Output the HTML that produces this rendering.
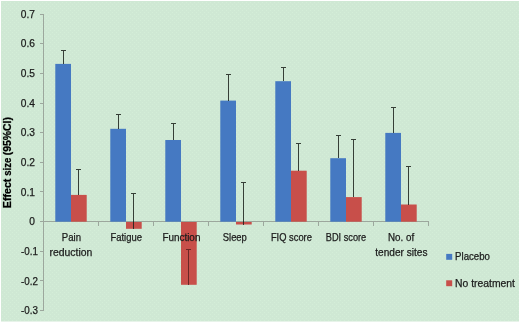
<!DOCTYPE html>
<html lang="en">
<head>
<meta charset="utf-8">
<title>Effect size chart</title>
<style>
html,body{margin:0;padding:0;background:#fff;}
body{width:520px;height:323px;overflow:hidden;}
svg{display:block;}
text{font-family:"Liberation Sans",sans-serif;fill:#1c1c1c;}
.lbl{font-size:10.2px;stroke:#1c1c1c;stroke-width:0.25px;}
.ttl{font-size:10.3px;font-weight:bold;fill:#000;stroke:#000;stroke-width:0.25px;}
</style>
</head>
<body>
<svg width="520" height="323" viewBox="0 0 520 323">
<defs><pattern id="dots" width="4" height="4" patternUnits="userSpaceOnUse"><rect x="0" y="0" width="1" height="1" fill="#d4eed8"/><rect x="2" y="2" width="1" height="1" fill="#d4eed8"/></pattern></defs>
<rect x="0" y="0" width="520" height="323" fill="#ffffff"/>
<rect x="1" y="1" width="518" height="320.5" fill="#cfe8d4"/>
<rect x="1" y="1" width="518" height="320" fill="url(#dots)" shape-rendering="crispEdges"/>
<g stroke="#9ca79d" stroke-width="1" fill="none" shape-rendering="crispEdges">
<line x1="43.5" y1="14" x2="43.5" y2="311"/>
<line x1="43" y1="221.5" x2="429" y2="221.5"/>
<line x1="40" y1="14.5" x2="43" y2="14.5"/>
<line x1="40" y1="43.5" x2="43" y2="43.5"/>
<line x1="40" y1="73.5" x2="43" y2="73.5"/>
<line x1="40" y1="103.5" x2="43" y2="103.5"/>
<line x1="40" y1="132.5" x2="43" y2="132.5"/>
<line x1="40" y1="162.5" x2="43" y2="162.5"/>
<line x1="40" y1="191.5" x2="43" y2="191.5"/>
<line x1="40" y1="221.5" x2="43" y2="221.5"/>
<line x1="40" y1="251.5" x2="43" y2="251.5"/>
<line x1="40" y1="280.5" x2="43" y2="280.5"/>
<line x1="40" y1="310.5" x2="43" y2="310.5"/>
<line x1="98.5" y1="221" x2="98.5" y2="226"/>
<line x1="153.5" y1="221" x2="153.5" y2="226"/>
<line x1="208.5" y1="221" x2="208.5" y2="226"/>
<line x1="263.5" y1="221" x2="263.5" y2="226"/>
<line x1="318.5" y1="221" x2="318.5" y2="226"/>
<line x1="373.5" y1="221" x2="373.5" y2="226"/>
<line x1="428.5" y1="221" x2="428.5" y2="226"/>
</g>
<g>
<rect x="55.29" y="63.90" width="15.71" height="157.80" fill="#4579c2"/>
<rect x="71.00" y="194.90" width="15.71" height="26.80" fill="#c84f4a"/>
<rect x="110.29" y="128.80" width="15.71" height="92.90" fill="#4579c2"/>
<rect x="126.00" y="222.00" width="15.71" height="6.80" fill="#c84f4a"/>
<rect x="165.29" y="140.00" width="15.71" height="81.70" fill="#4579c2"/>
<rect x="181.00" y="222.00" width="15.71" height="62.80" fill="#c84f4a"/>
<rect x="220.29" y="100.60" width="15.71" height="121.10" fill="#4579c2"/>
<rect x="236.00" y="222.00" width="15.71" height="2.50" fill="#c84f4a"/>
<rect x="275.29" y="81.20" width="15.71" height="140.50" fill="#4579c2"/>
<rect x="291.00" y="170.70" width="15.71" height="51.00" fill="#c84f4a"/>
<rect x="330.29" y="158.20" width="15.71" height="63.50" fill="#4579c2"/>
<rect x="346.00" y="197.10" width="15.71" height="24.60" fill="#c84f4a"/>
<rect x="385.29" y="132.90" width="15.71" height="88.80" fill="#4579c2"/>
<rect x="401.00" y="204.50" width="15.71" height="17.20" fill="#c84f4a"/>
</g>
<g stroke="#1a201a" stroke-opacity="0.85" stroke-width="1" fill="none" shape-rendering="crispEdges">
<line x1="63.50" y1="63.90" x2="63.50" y2="50.50"/>
<line x1="61.00" y1="50.50" x2="66.00" y2="50.50"/>
<line x1="78.50" y1="194.90" x2="78.50" y2="169.50"/>
<line x1="76.00" y1="169.50" x2="81.00" y2="169.50"/>
<line x1="118.50" y1="128.80" x2="118.50" y2="114.50"/>
<line x1="116.00" y1="114.50" x2="121.00" y2="114.50"/>
<line x1="133.50" y1="228.80" x2="133.50" y2="193.50"/>
<line x1="131.00" y1="193.50" x2="136.00" y2="193.50"/>
<line x1="173.50" y1="140.00" x2="173.50" y2="123.50"/>
<line x1="171.00" y1="123.50" x2="176.00" y2="123.50"/>
<line x1="188.50" y1="284.80" x2="188.50" y2="249.50" stroke="#5a1f1f"/>
<line x1="186.00" y1="249.50" x2="191.00" y2="249.50" stroke="#5a1f1f"/>
<line x1="228.50" y1="100.60" x2="228.50" y2="74.50"/>
<line x1="226.00" y1="74.50" x2="231.00" y2="74.50"/>
<line x1="243.50" y1="224.50" x2="243.50" y2="182.50"/>
<line x1="241.00" y1="182.50" x2="246.00" y2="182.50"/>
<line x1="283.50" y1="81.20" x2="283.50" y2="67.50"/>
<line x1="281.00" y1="67.50" x2="286.00" y2="67.50"/>
<line x1="298.50" y1="170.70" x2="298.50" y2="143.50"/>
<line x1="296.00" y1="143.50" x2="301.00" y2="143.50"/>
<line x1="338.50" y1="158.20" x2="338.50" y2="135.50"/>
<line x1="336.00" y1="135.50" x2="341.00" y2="135.50"/>
<line x1="353.50" y1="197.10" x2="353.50" y2="139.50"/>
<line x1="351.00" y1="139.50" x2="356.00" y2="139.50"/>
<line x1="393.50" y1="132.90" x2="393.50" y2="107.50"/>
<line x1="391.00" y1="107.50" x2="396.00" y2="107.50"/>
<line x1="408.50" y1="204.50" x2="408.50" y2="166.50"/>
<line x1="406.00" y1="166.50" x2="411.00" y2="166.50"/>
</g>
<text class="lbl" x="35.0" y="17.6" text-anchor="end">0.7</text>
<text class="lbl" x="35.0" y="47.2" text-anchor="end">0.6</text>
<text class="lbl" x="35.0" y="76.9" text-anchor="end">0.5</text>
<text class="lbl" x="35.0" y="106.5" text-anchor="end">0.4</text>
<text class="lbl" x="35.0" y="136.2" text-anchor="end">0.3</text>
<text class="lbl" x="35.0" y="165.9" text-anchor="end">0.2</text>
<text class="lbl" x="35.0" y="195.5" text-anchor="end">0.1</text>
<text class="lbl" x="35.0" y="225.2" text-anchor="end">0</text>
<text class="lbl" x="37.9" y="254.8" text-anchor="end" textLength="16.9" lengthAdjust="spacingAndGlyphs">-0.1</text>
<text class="lbl" x="37.9" y="284.5" text-anchor="end" textLength="16.9" lengthAdjust="spacingAndGlyphs">-0.2</text>
<text class="lbl" x="37.9" y="314.2" text-anchor="end" textLength="16.9" lengthAdjust="spacingAndGlyphs">-0.3</text>
<text class="lbl" x="71.4" y="240.6" text-anchor="middle" textLength="19.2" lengthAdjust="spacingAndGlyphs">Pain</text>
<text class="lbl" x="70.9" y="255.8" text-anchor="middle" textLength="42.8" lengthAdjust="spacingAndGlyphs">reduction</text>
<text class="lbl" x="126.2" y="240.6" text-anchor="middle" textLength="31.5" lengthAdjust="spacingAndGlyphs">Fatigue</text>
<text class="lbl" x="181.4" y="240.6" text-anchor="middle" textLength="38.0" lengthAdjust="spacingAndGlyphs">Function</text>
<text class="lbl" x="234.8" y="240.6" text-anchor="middle" textLength="24.1" lengthAdjust="spacingAndGlyphs">Sleep</text>
<text class="lbl" x="291.4" y="240.6" text-anchor="middle" textLength="41.0" lengthAdjust="spacingAndGlyphs">FIQ score</text>
<text class="lbl" x="346.0" y="240.6" text-anchor="middle" textLength="40.4" lengthAdjust="spacingAndGlyphs">BDI score</text>
<text class="lbl" x="401.1" y="240.6" text-anchor="middle" textLength="26.1" lengthAdjust="spacingAndGlyphs">No. of</text>
<text class="lbl" x="401.4" y="255.8" text-anchor="middle" textLength="52.2" lengthAdjust="spacingAndGlyphs">tender sites</text>
<rect x="446.2" y="253.9" width="6" height="5.9" fill="#4579c2"/>
<rect x="446.2" y="280.3" width="6" height="5.9" fill="#c84f4a"/>
<text class="lbl" x="455.1" y="260.3" textLength="34.8" lengthAdjust="spacingAndGlyphs">Placebo</text>
<text class="lbl" x="455.1" y="286.8" textLength="59.9" lengthAdjust="spacingAndGlyphs">No treatment</text>
<g transform="translate(10.6,207.5) rotate(-90)">
<text class="ttl" x="-0.7" y="0" textLength="29.6" lengthAdjust="spacingAndGlyphs">Effect</text>
<text class="ttl" x="31.7" y="0" textLength="18.0" lengthAdjust="spacingAndGlyphs">size</text>
<text class="ttl" x="52.2" y="0" textLength="38.2" lengthAdjust="spacingAndGlyphs">(95%CI)</text>
</g>
</svg>
</body>
</html>
